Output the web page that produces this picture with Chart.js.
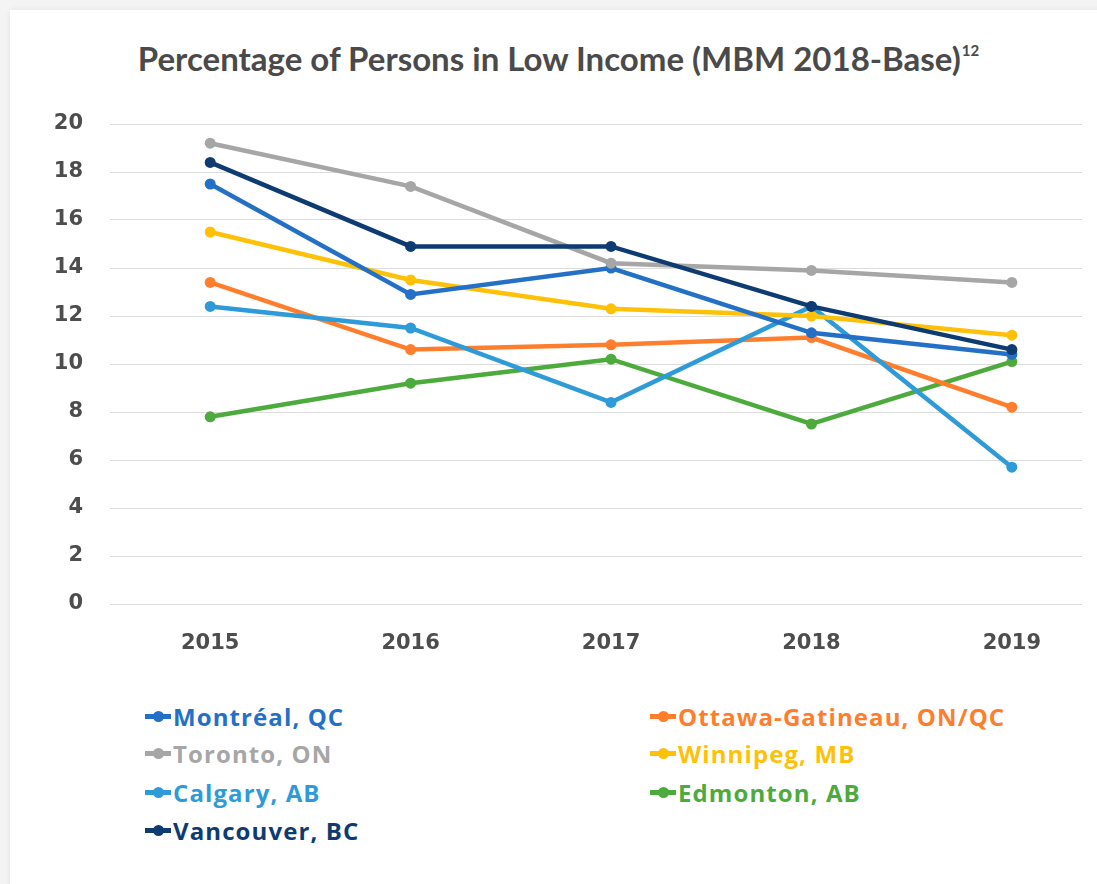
<!DOCTYPE html>
<html>
<head>
<meta charset="utf-8">
<script src="https://cdn.jsdelivr.net/npm/chart.js@4.4.1/dist/chart.umd.min.js"></script>
<style>
  html, body { margin: 0; padding: 0; }
  body { width: 1097px; height: 884px; background: #f4f4f4; position: relative; overflow: hidden; font-family: Lato, "Open Sans", sans-serif; }
  #card { position: absolute; left: 10px; top: 10px; width: 1100px; height: 890px; background: #fff; box-shadow: 0 0 6px rgba(0,0,0,0.08); }
  #title { position: absolute; left: 0; top: 38px; width: 1117px; text-align: center; font-weight: 700; font-size: 33px; color: #4a4a4a; white-space: nowrap; }
  #title sup { font-size: 15px; vertical-align: 15px; margin-left: 1px; }
  #wrap { position: absolute; left: 0; top: 0; width: 1097px; height: 700px; }
  #legend { position: absolute; left: 145px; top: 700px; width: 940px; }
  .item { position: absolute; display: flex; align-items: center; font-family: "Open Sans", Lato, sans-serif; font-weight: 700; font-size: 24px; white-space: nowrap; letter-spacing: 1.1px; }
  .mk { position: relative; width: 26px; height: 5px; margin-right: 2px; }
  .mk i { position: absolute; left: 8px; top: -3px; width: 11px; height: 11px; border-radius: 50%; }
</style>
</head>
<body>
<div id="card"></div>
<div id="title">Percentage of Persons in Low Income (MBM 2018-Base)<sup>12</sup></div>
<div id="wrap"><canvas id="c" width="1097" height="700"></canvas></div>
<div id="legend"></div>
<script>
const years = [2015, 2016, 2017, 2018, 2019];
const yTicks = [0, 2, 4, 6, 8, 10, 12, 14, 16, 18, 20];

const montreal  = [17.5, 12.9, 14.0, 11.3, 10.4];
const ottawa    = [13.4, 10.6, 10.8, 11.1, 8.2];
const toronto   = [19.2, 17.4, 14.2, 13.9, 13.4];
const winnipeg  = [15.5, 13.5, 12.3, 12.0, 11.2];
const calgary   = [12.4, 11.5, 8.4, 12.4, 5.7];
const edmonton  = [7.8, 9.2, 10.2, 7.5, 10.1];
const vancouver = [18.4, 14.9, 14.9, 12.4, 10.6];

const seriesNames = ["Montréal, QC", "Ottawa-Gatineau, ON/QC", "Toronto, ON", "Winnipeg, MB", "Calgary, AB", "Edmonton, AB", "Vancouver, BC"];
const seriesValues = [montreal, ottawa, toronto, winnipeg, calgary, edmonton, vancouver];
const seriesColors = ["#2470C6", "#FF7E2E", "#A6A6A6", "#FFC107", "#2E9BD8", "#4DAA3C", "#0D3B72"];
// draw order: later datasets on top
const drawOrder = [5, 1, 4, 3, 0, 2, 6];

const datasets = seriesNames.map((name, i) => ({
  label: name,
  data: years.map((yr, k) => ({ x: yr, y: seriesValues[i][k] })),
  borderColor: seriesColors[i],
  backgroundColor: seriesColors[i],
  borderWidth: 4.5,
  pointRadius: 5.5,
  pointHoverRadius: 5.5,
  pointBorderWidth: 0,
  tension: 0,
  clip: false,
  order: drawOrder.indexOf(i) * -1
}));

const tickFont = { family: "'DejaVu Sans', sans-serif", weight: 'bold', size: 21 };

new Chart(document.getElementById('c'), {
  type: 'line',
  data: { datasets },
  options: {
    responsive: false,
    animation: false,
    events: [],
    layout: { padding: { top: 124, left: 30, right: 15, bottom: 36 } },
    plugins: { legend: { display: false }, title: { display: false }, tooltip: { enabled: false } },
    scales: {
      x: {
        type: 'linear',
        min: 2014.5,
        max: 2019.35,
        afterBuildTicks: s => { s.ticks = years.map(v => ({ value: v })); },
        afterFit: s => { s.height = 60; },
        grid: { display: false, drawTicks: false },
        border: { display: false },
        ticks: { font: tickFont, color: '#4d4d4d', padding: 27, callback: v => String(v), maxRotation: 0 }
      },
      y: {
        min: 0,
        max: 20,
        afterBuildTicks: s => { s.ticks = yTicks.map(v => ({ value: v })); },
        afterFit: s => { s.width = 80; },
        grid: { color: '#dcdcdc', lineWidth: 1, drawTicks: false },
        border: { display: false },
        ticks: { font: tickFont, color: '#4d4d4d', padding: 27 }
      }
    }
  }
});

const legend = document.getElementById('legend');
const legendPos = [[0, 17], [505, 17], [0, 54], [505, 54], [0, 93], [505, 93], [0, 131]];
seriesNames.forEach((name, i) => {
  const d = document.createElement('div');
  d.className = 'item';
  d.style.left = legendPos[i][0] + 'px';
  d.style.top = (legendPos[i][1] - 17) + 'px';
  d.style.color = seriesColors[i];
  d.innerHTML = '<span class="mk" style="background:' + seriesColors[i] + '"><i style="background:' + seriesColors[i] + '"></i></span>' + name;
  legend.appendChild(d);
});
</script>
</body>
</html>
